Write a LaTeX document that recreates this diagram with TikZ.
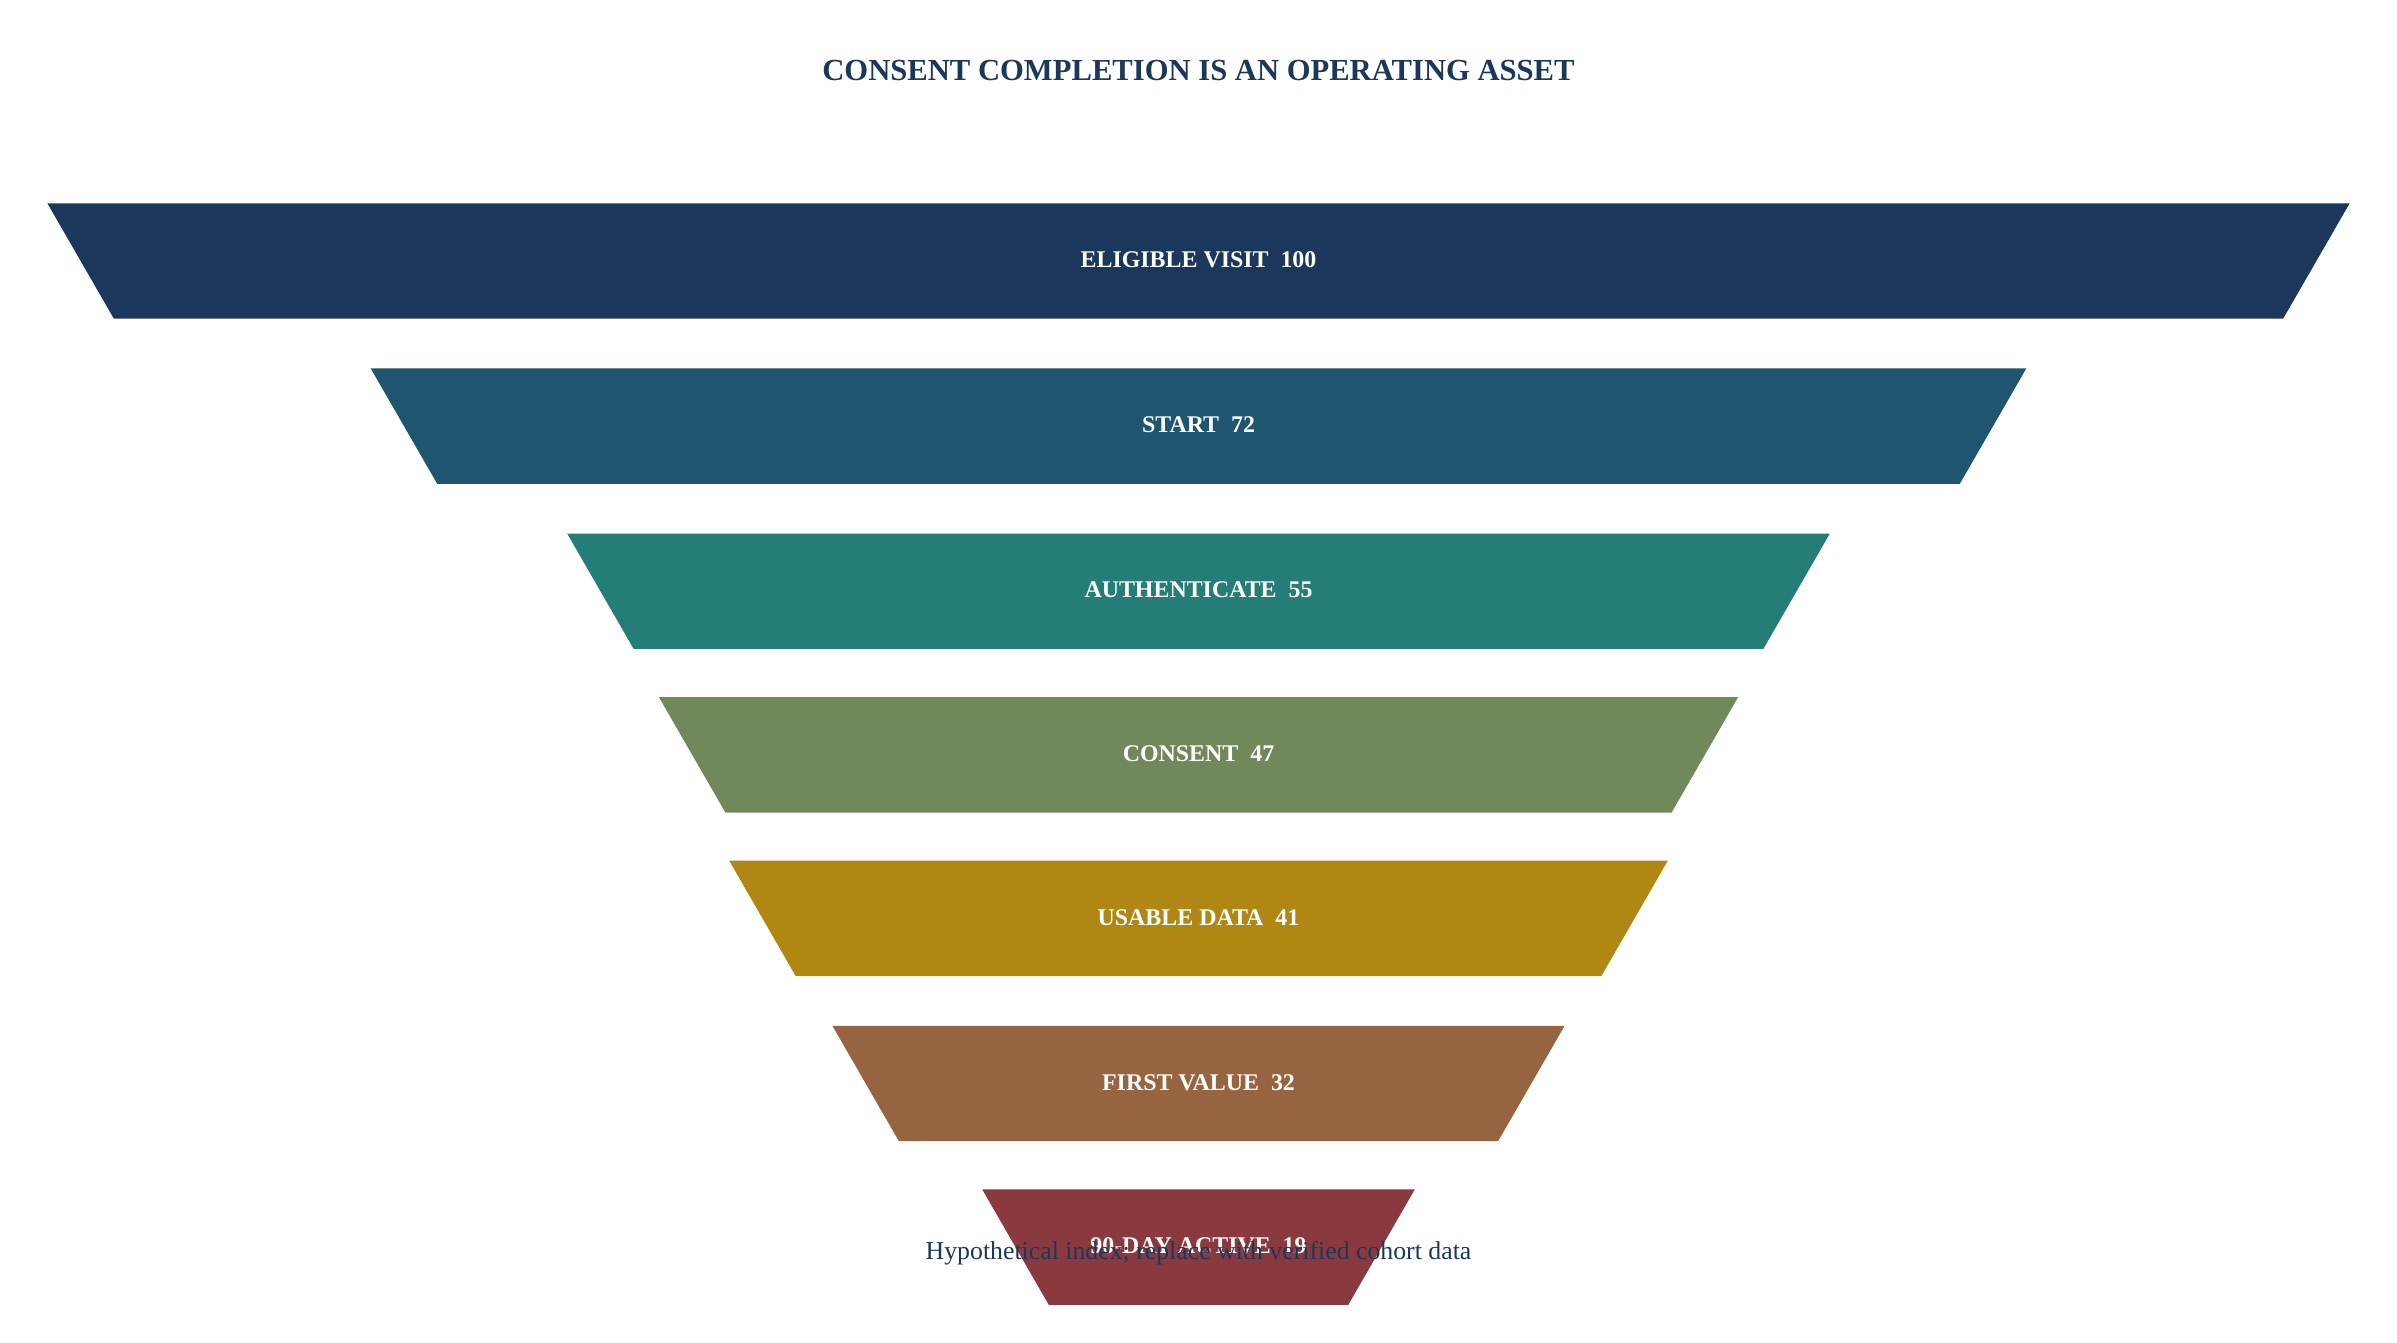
\documentclass[tikz,border=0pt]{standalone}
\usepackage{fontspec}
\setmainfont{Liberation Serif}
\usepackage{tikz}
\usetikzlibrary{positioning}
\definecolor{navy}{HTML}{1B375B}
\definecolor{stepA}{HTML}{1B375B}
\definecolor{stepB}{HTML}{1F556E}
\definecolor{stepC}{HTML}{247D77}
\definecolor{stepD}{HTML}{71885B}
\definecolor{stepE}{HTML}{B08712}
\definecolor{stepF}{HTML}{976441}
\definecolor{stepG}{HTML}{8A3A3E}
\tikzset{
    stage label/.style={
        text=white, font=\bfseries\fontsize{8.9}{10}\selectfont
    },
    title text/.style={
        text=navy, font=\bfseries\fontsize{11.4}{13}\selectfont
    },
    note text/.style={
        text=navy, font=\fontsize{9.6}{11}\selectfont
    },
}
\begin{document}
\begin{tikzpicture}[x=0.02cm, y=-0.02cm]
    \useasboundingbox (0,0) rectangle (1568,878);
    \node[title text] (title) at (784,46) {CONSENT COMPLETION IS AN OPERATING ASSET};
    \foreach \n/\yt/\hw/\col/\txt in {
        a/133/753/stepA/ELIGIBLE VISIT\ \ 100,
        b/241/541.5/stepB/START\ \ 72,
        c/349/413/stepC/AUTHENTICATE\ \ 55,
        d/456/353/stepD/CONSENT\ \ 47,
        e/563/307/stepE/USABLE DATA\ \ 41,
        f/671/239.5/stepF/FIRST VALUE\ \ 32,
        g/778/141.5/stepG/90-DAY ACTIVE\ \ 19%
    } {
        \fill[\col] ({784-\hw},\yt) -- ({784+\hw},\yt)
            -- ({784+\hw-43.5},{\yt+75.5}) -- ({784-\hw+43.5},{\yt+75.5}) -- cycle;
        \node[stage label] (stage-\n) at (784,{\yt+37}) {\txt};
    }
    \node[note text] (note) at (784,820) {Hypothetical index; replace with verified cohort data};
\end{tikzpicture}
\end{document}
